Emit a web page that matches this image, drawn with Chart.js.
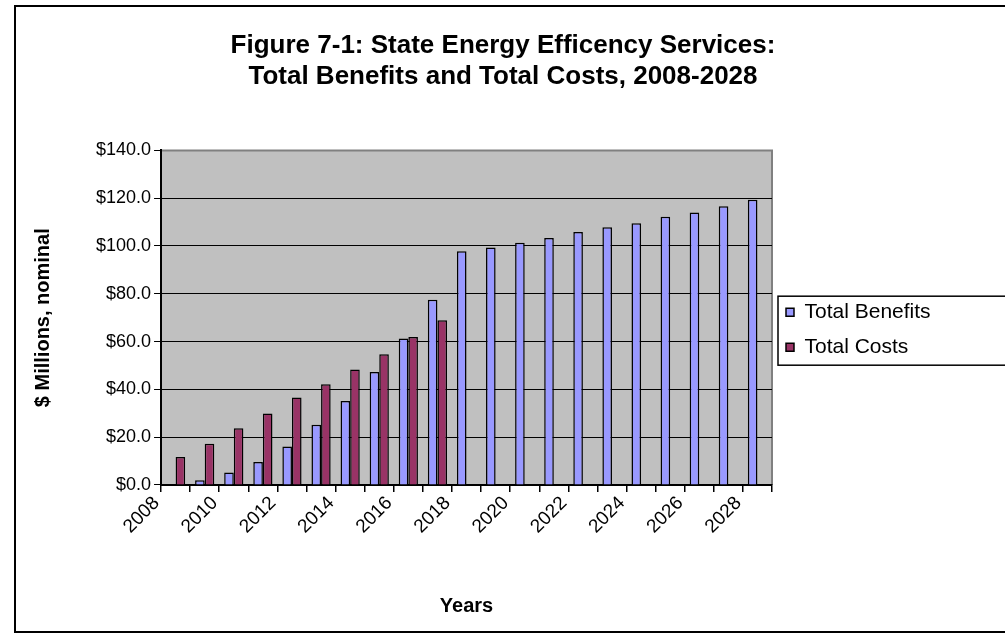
<!DOCTYPE html>
<html>
<head>
<meta charset="utf-8">
<script src="https://cdn.jsdelivr.net/npm/chart.js@4.4.1/dist/chart.umd.min.js"></script>
<style>
  html, body { margin: 0; padding: 0; background: #fff; overflow: hidden; }
  #chart { position: absolute; left: 0; top: 0; }
</style>
</head>
<body>
<canvas id="chart" width="1005" height="640"></canvas>
<script>
// data ($ millions, nominal)
var years = ['2008', '2009', '2010', '2011', '2012', '2013', '2014', '2015', '2016', '2017', '2018',
  '2019', '2020', '2021', '2022', '2023', '2024', '2025', '2026', '2027', '2028'];
var totalBenefits = [0, 2.0, 5.2, 9.6, 16.1, 25.2, 35.1, 47.3, 61.3, 77.5, 97.8,
  99.4, 101.4, 103.3, 105.9, 107.8, 109.5, 112.2, 114.0, 116.6, 119.4];
var totalCosts = [11.7, 17.3, 23.7, 29.9, 36.6, 42.2, 48.3, 54.7, 61.9, 68.9, null,
  null, null, null, null, null, null, null, null, null, null];
var titleLines = ['Figure 7-1: State Energy Efficency Services:', 'Total Benefits and Total Costs, 2008-2028'];

Chart.defaults.font.family = "'Liberation Sans', Arial, sans-serif";
Chart.defaults.color = '#000';

var LEGEND_WIDTH = 210;

var frame = {
  id: 'frame',
  beforeLayout: function (chart) {
    // widen the legend box so it runs off the right edge like the original
    var lg = chart.legend;
    if (lg && !lg.__wide) {
      var fit = lg.fit;
      lg.fit = function () { fit.call(this); this.width = LEGEND_WIDTH; };
      lg.__wide = true;
    }
  },
  beforeDraw: function (chart) {
    var c = chart.ctx, a = chart.chartArea;
    c.save();
    c.fillStyle = '#fff';
    c.fillRect(0, 0, chart.width, chart.height);
    c.strokeStyle = '#000';
    c.lineWidth = 2;
    c.strokeRect(15, 6, 1030, 626);
    c.fillStyle = '#c0c0c0';
    c.fillRect(a.left, a.top, a.right - a.left, a.bottom - a.top);
    c.strokeStyle = '#808080';
    c.beginPath();
    c.moveTo(a.left, a.top);
    c.lineTo(a.right, a.top);
    c.lineTo(a.right, a.bottom);
    c.stroke();
    c.restore();
  },
  afterDraw: function (chart) {
    var hb = chart.legend.legendHitBoxes;
    if (!hb || hb.length < 2) return;
    var c = chart.ctx;
    var left = hb[0].left - 8;
    var top = hb[0].top + hb[0].height / 2 - 16;
    var bottom = hb[1].top + hb[1].height / 2 + 18;
    c.save();
    c.strokeStyle = '#000';
    c.lineWidth = 1.5;
    c.strokeRect(left, top, 1030 - left, bottom - top);
    c.restore();
  }
};

new Chart(document.getElementById('chart').getContext('2d'), {
  type: 'bar',
  data: {
    labels: years,
    datasets: [{
      label: 'Total Benefits',
      data: totalBenefits,
      backgroundColor: '#9999ff',
      borderColor: '#000',
      borderWidth: 1.5
    }, {
      label: 'Total Costs',
      data: totalCosts,
      backgroundColor: '#993366',
      borderColor: '#000',
      borderWidth: 1.5
    }]
  },
  options: {
    responsive: false,
    animation: false,
    datasets: { bar: { categoryPercentage: 0.66, barPercentage: 1.0 } },
    layout: { padding: { left: 24, right: 23, top: 8, bottom: 21.5 } },
    plugins: {
      title: {
        display: true,
        text: titleLines,
        font: { size: 26, weight: 'bold' },
        lineHeight: 1.27,
        padding: { top: 22, bottom: 58 }
      },
      legend: {
        position: 'right',
        fullSize: false,
        title: { display: true, text: ' ', font: { size: 1 }, padding: { top: 0, bottom: 22.8 } },
        labels: {
          boxWidth: 8,
          boxHeight: 8,
          padding: 14,
          font: { size: 21 }
        }
      },
      tooltip: { enabled: false }
    },
    scales: {
      x: {
        grid: { drawOnChartArea: false, color: '#000', tickLength: 7, lineWidth: 1.5 },
        border: { color: '#000', width: 2 },
        ticks: {
          autoSkip: false,
          minRotation: 45,
          maxRotation: 45,
          labelOffset: -19,
          padding: 0,
          font: { size: 19 },
          callback: function (v, i) { return i % 2 === 0 ? years[i] : ''; }
        },
        title: {
          display: true,
          text: 'Years',
          font: { size: 20, weight: 'bold' },
          padding: { top: 56.5, bottom: 0 }
        }
      },
      y: {
        min: 0,
        max: 140,
        grid: {
          color: function (ctx) { return ctx.tick && ctx.tick.value === 140 ? '#808080' : '#000'; },
          tickColor: '#000',
          tickLength: 7,
          lineWidth: 1
        },
        border: { color: '#000', width: 2 },
        ticks: {
          stepSize: 20,
          padding: 3,
          font: { size: 18 },
          callback: function (v) { return '$' + v.toFixed(1); }
        },
        title: {
          display: true,
          text: '$ Millions, nominal',
          font: { size: 20, weight: 'bold' },
          padding: { top: 7.6, bottom: 37.4 }
        }
      }
    }
  },
  plugins: [frame]
});
</script>
</body>
</html>
